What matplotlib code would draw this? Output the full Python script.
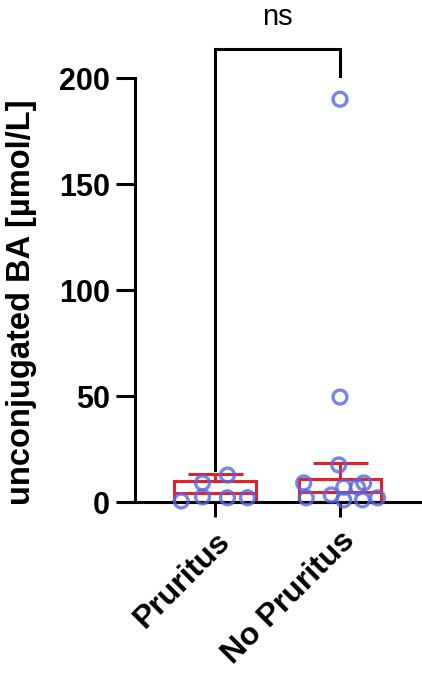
import matplotlib
matplotlib.use("Agg")
import matplotlib.pyplot as plt
import matplotlib.transforms as mtransforms
import numpy as np

plt.rcParams['font.family'] = ['Liberation Sans', 'DejaVu Sans']

categories = ["Pruritus", "No Pruritus"]
pruritus_vals = [0.5, 9.0, 2.4, 12.7, 2.0, 2.0]
no_pruritus_vals = [9.0, 2.0, 3.3, 17.5, 7.0, 1.0, 7.0, 1.0, 9.0, 2.0, 49.5, 190.0]
box_top = [10.0, 10.8]
center_line = [4.3, 4.6]
whisker_top = [13.2, 18.4]
yticks = [0, 50, 100, 150, 200]
sig_label = "ns"

# horizontal jitter of the points (layout only)
pruritus_jit = [-0.27, -0.10, -0.10, 0.10, 0.10, 0.26]
no_pruritus_jit = [-0.29, -0.27, -0.07, -0.01, 0.03, 0.03, 0.14, 0.18, 0.19, 0.30, 0.0, 0.0]

W, H = 422, 675
fig = plt.figure(figsize=(W/100, H/100), dpi=100)
ax = fig.add_axes([135/W, (H-502)/H, (422-135)/W, 424/H])

red = '#e3212b'
blue = '#5468e0'
lw_axis = 2.2

xs = np.arange(len(categories))
bw = 0.65
cw = 0.44
for i in range(len(categories)):
    ax.bar(xs[i], box_top[i], width=bw, facecolor='white', edgecolor=red, linewidth=2.2, zorder=2, clip_on=False)
    ax.plot([xs[i]-bw/2, xs[i]+bw/2], [center_line[i]]*2, color=red, lw=2.2, zorder=2, solid_capstyle='butt')
    ax.plot([xs[i], xs[i]], [box_top[i], whisker_top[i]], color=red, lw=2.2, zorder=2)
    ax.plot([xs[i]-cw/2, xs[i]+cw/2], [whisker_top[i]]*2, color=red, lw=2.2, zorder=2, solid_capstyle='butt')

groups = [(pruritus_vals, pruritus_jit), (no_pruritus_vals, no_pruritus_jit)]
for i, (vals, jit) in enumerate(groups):
    ax.scatter(xs[i] + np.array(jit), vals, s=100, facecolors='none', edgecolors=blue,
               linewidths=2.4, alpha=0.8, zorder=3, clip_on=False)

ax.set_xlim(-0.64, 1.656)
ax.set_ylim(0, 200)
ax.set_yticks(yticks)
ax.set_xticks(xs)
ax.set_xticklabels(categories, rotation=45, ha='right', va='top', rotation_mode='anchor',
                   fontsize=23, fontweight='bold')
offset = mtransforms.ScaledTranslation(-13/100, -10/100, fig.dpi_scale_trans)
for lab in ax.get_xticklabels():
    lab.set_transform(lab.get_transform() + offset)
ax.set_yticklabels([str(t) for t in yticks], fontsize=22, fontweight='bold')
ax.tick_params(axis='y', length=14, width=lw_axis, pad=4)
ax.tick_params(axis='x', length=11, width=lw_axis, pad=6)
for s in ['top', 'right']:
    ax.spines[s].set_visible(False)
for s in ['left', 'bottom']:
    ax.spines[s].set_linewidth(lw_axis)
fig.text(22/W, 1 - 302/H, "unconjugated BA [µmol/L]", rotation=90, ha='center', va='center',
         fontsize=23.5, fontweight='bold')

# significance bracket
ytop = 213.5
ax.plot([0, 0, 1, 1], [15, ytop, ytop, 201], color='black', lw=2.2, clip_on=False,
        solid_joinstyle='miter', zorder=4)
fig.text(277/W, 1 - 17/H, sig_label, ha='center', va='center', fontsize=21)

fig.savefig("out.png", dpi=100)
